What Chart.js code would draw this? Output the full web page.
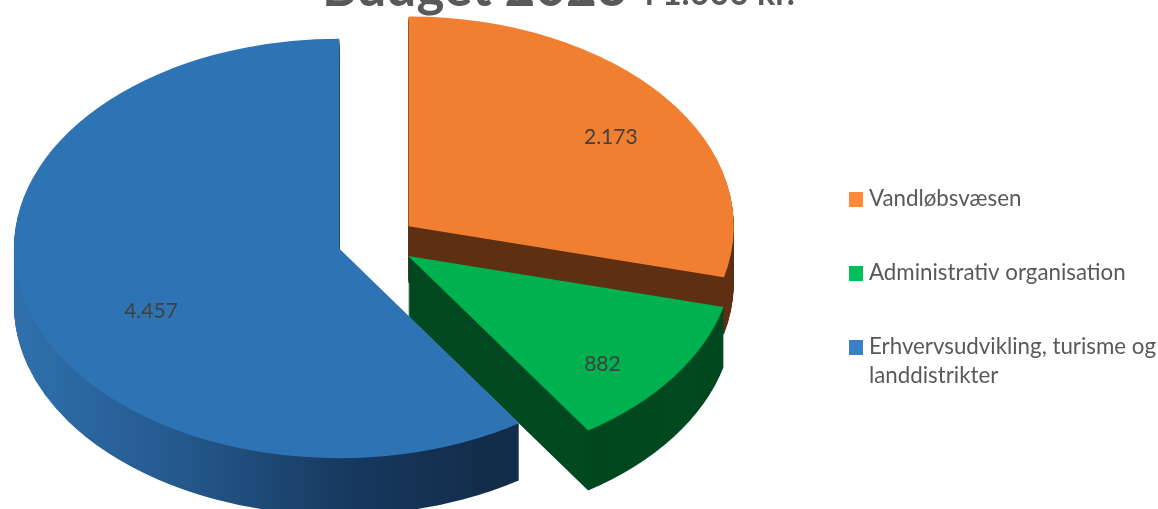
<!DOCTYPE html>
<html lang="da">
<head>
  <meta charset="UTF-8">
  <title>Budget 2023</title>
  <script src="https://cdn.jsdelivr.net/npm/chart.js"></script>
  <style>
    body { margin: 0; background: #fff; }
    canvas { display: block; }
  </style>
</head>
<body>
  <canvas id="budget" width="1158" height="509"></canvas>

  <script>
    const categories = ['Vandløbsvæsen', 'Administrativ organisation', 'Erhvervsudvikling, turisme og landdistrikter'];
    const values = [2173, 882, 4457];
    const topColors = ['#f17f31', '#00b14f', '#2e74b5'];
    const sideColors = ['#5f3013', '#004820', null];
    const legendColors = ['#ff8a3a', '#00bf5a', '#3a80c6'];

    // pie is flattened and stretched to fit the slide
    const centerX = 377, centerY = 242, scaleX = 1.278, scaleY = 0.824;
    const explode = 31.3;
    const sideDepth = [57, 60, 57];
    const sliceNudge = [[0, 0], [-1.5, -1], [0.5, -1]];
    const labelNudge = [[74, -24], [60, 47], [-32, 31]];

    const sliceShift = arc => {
      const mid = (arc.startAngle + arc.endAngle) / 2;
      return { x: Math.cos(mid) * explode, y: Math.sin(mid) * explode };
    };

    const pie3d = {
      id: 'pie3d',
      beforeDatasetDraw(chart) {
        const ctx = chart.ctx;
        const arcs = chart.getDatasetMeta(0).data;

        arcs.forEach((arc, i) => {
          const shift = sliceShift(arc);
          let fill = sideColors[i];
          if (!fill) {
            fill = ctx.createLinearGradient(arc.x - arc.outerRadius, 0, arc.x + arc.outerRadius * 0.45, 0);
            fill.addColorStop(0, '#2f70ad');
            fill.addColorStop(0.35, '#24598d');
            fill.addColorStop(0.7, '#173a5f');
            fill.addColorStop(1, '#132c4a');
          }
          const side = Object.create(arc);
          side.options = Object.assign({}, arc.options, { backgroundColor: fill });

          ctx.save();
          ctx.translate(centerX + sliceNudge[i][0], centerY + sliceNudge[i][1]);
          ctx.scale(scaleX, scaleY);
          ctx.translate(-chart.width / 2 + shift.x, -chart.height / 2 + shift.y);
          for (let d = sideDepth[i]; d > 0; d--) {
            ctx.save();
            ctx.translate(0, d / scaleY);
            side.draw(ctx);
            ctx.restore();
          }
          arc.draw(ctx);
          ctx.restore();
        });
        return false;
      },
      afterDraw(chart) {
        const ctx = chart.ctx;
        ctx.save();

        // title, cut off by the top edge like on the slide
        ctx.fillStyle = '#595959';
        ctx.textAlign = 'left';
        ctx.textBaseline = 'alphabetic';
        ctx.font = 'bold 53px Lato';
        ctx.fillText('Budget 2023', 322, 6);
        ctx.font = 'bold 34px Lato';
        ctx.fillText('i 1.000 kr.', 645, 5);

        // value labels
        ctx.fillStyle = '#404040';
        ctx.font = '21px Lato';
        ctx.textAlign = 'center';
        ctx.textBaseline = 'middle';
        chart.getDatasetMeta(0).data.forEach((arc, i) => {
          const c = arc.getCenterPoint();
          const shift = sliceShift(arc);
          const x = centerX + (c.x + shift.x - chart.width / 2) * scaleX + labelNudge[i][0];
          const y = centerY + (c.y + shift.y - chart.height / 2) * scaleY + labelNudge[i][1];
          ctx.fillText(String(values[i]).replace(/\B(?=(\d{3})+$)/g, '.'), x, y);
        });

        // legend, spread out down the right side
        ctx.textAlign = 'left';
        ctx.textBaseline = 'alphabetic';
        ctx.font = '22.3px Lato';
        const baselines = [206, 280, 354];
        categories.forEach((name, i) => {
          ctx.fillStyle = legendColors[i];
          ctx.fillRect(849, baselines[i] - 14, 14, 15);
          ctx.fillStyle = '#595959';
          let line = '', y = baselines[i];
          name.split(' ').forEach(word => {
            const test = line ? line + ' ' + word : word;
            if (ctx.measureText(test).width > 290 && line) {
              ctx.fillText(line, 869, y);
              y += 29;
              line = word;
            } else {
              line = test;
            }
          });
          ctx.fillText(line, 869, y);
        });
        ctx.restore();
      }
    };

    new Chart(document.getElementById('budget').getContext('2d'), {
      type: 'pie',
      data: {
        labels: categories,
        datasets: [{
          data: values,
          backgroundColor: topColors,
          borderWidth: 0
        }]
      },
      options: {
        responsive: false,
        animation: false,
        plugins: {
          legend: { display: false },
          tooltip: { enabled: false }
        }
      },
      plugins: [pie3d]
    });
  </script>
</body>
</html>
